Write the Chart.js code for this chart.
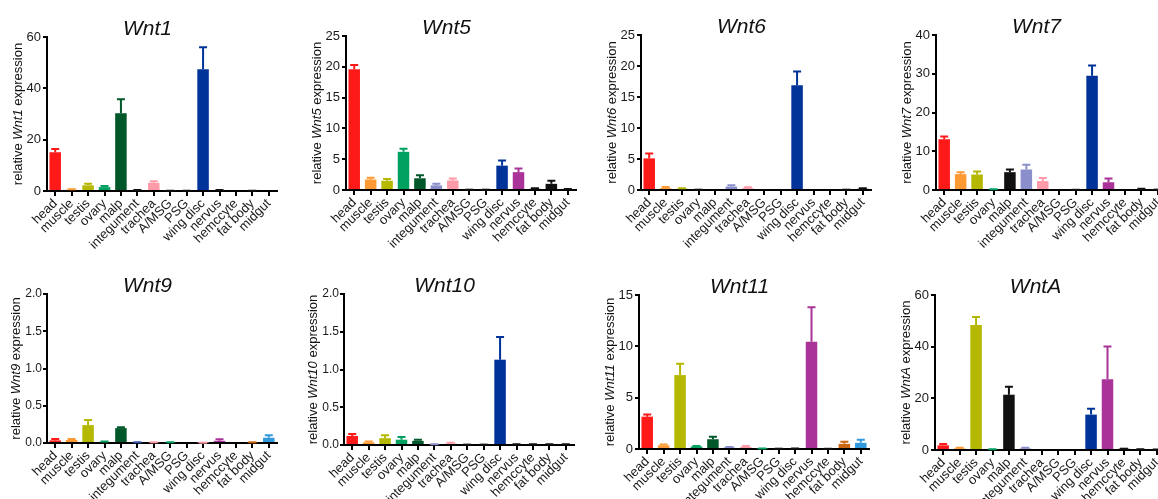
<!DOCTYPE html>
<html>
<head>
<meta charset="utf-8">
<script src="https://cdn.jsdelivr.net/npm/chart.js@4.4.1/dist/chart.umd.min.js"></script>
<style>
  body { margin: 0; width: 1158px; height: 499px; overflow: hidden; background: #fff; position: relative; }
  canvas { position: absolute; }
</style>
</head>
<body>
<script>
// Tecidos (categorias do eixo x)
const tecidos = ['head', 'muscle', 'testis', 'ovary', 'malp', 'integument', 'trachea', 'A/MSG', 'PSG', 'wing disc', 'nervus', 'hemccyte', 'fat body', 'midgut'];

// Médias e erros
const wnt1Media = [15.1, 0.5, 2.2, 1.5, 30.3, 0.3, 3.2, 0.1, 0.1, 47.4, 0.3, 0, 0.1, 0];
const wnt1Erro  = [1.3, 0.2, 0.6, 0.4, 5.4, 0.1, 0.6, 0, 0, 8.6, 0.1, 0, 0, 0];
const wnt1Ticks = [0, 20, 40, 60];

const wnt5Media = [19.6, 1.7, 1.5, 6.2, 1.9, 0.75, 1.55, 0.05, 0.05, 3.95, 2.9, 0.2, 1.0, 0.1];
const wnt5Erro  = [0.7, 0.3, 0.3, 0.5, 0.5, 0.25, 0.3, 0, 0, 0.85, 0.6, 0.1, 0.5, 0.05];
const wnt5Ticks = [0, 5, 10, 15, 20, 25];

const wnt6Media = [5.1, 0.3, 0.2, 0.05, 0, 0.55, 0.3, 0, 0, 16.9, 0, 0, 0.05, 0.2];
const wnt6Erro  = [0.8, 0.2, 0.1, 0, 0, 0.2, 0.15, 0, 0, 2.2, 0, 0, 0, 0.1];
const wnt6Ticks = [0, 5, 10, 15, 20, 25];

const wnt7Media = [13.1, 4.1, 4.0, 0.2, 4.6, 5.3, 2.3, 0, 0.05, 29.5, 2.0, 0, 0.2, 0.1];
const wnt7Erro  = [0.7, 0.5, 0.8, 0, 0.7, 1.2, 0.8, 0, 0, 2.6, 1.0, 0, 0.1, 0];
const wnt7Ticks = [0, 10, 20, 30, 40];

const wnt9Media = [0.035, 0.04, 0.24, 0.015, 0.2, 0.01, 0.01, 0.01, 0, 0.005, 0.03, 0, 0.01, 0.07];
const wnt9Erro  = [0.02, 0.015, 0.07, 0.005, 0.01, 0, 0, 0, 0, 0, 0.02, 0, 0, 0.035];
const wnt9Ticks = [0, 0.5, 1.0, 1.5, 2.0];

const wnt10Media = [0.12, 0.035, 0.09, 0.07, 0.055, 0.01, 0.02, 0.005, 0.005, 1.13, 0.01, 0.01, 0.01, 0.01];
const wnt10Erro  = [0.025, 0.01, 0.04, 0.035, 0.015, 0, 0.01, 0, 0, 0.3, 0, 0, 0, 0];
const wnt10Ticks = [0, 0.5, 1.0, 1.5, 2.0];

const wnt11Media = [3.15, 0.35, 7.2, 0.25, 0.95, 0.15, 0.2, 0.05, 0.03, 0.05, 10.45, 0.02, 0.5, 0.6];
const wnt11Erro  = [0.2, 0.1, 1.1, 0.05, 0.25, 0.05, 0.1, 0, 0, 0, 3.35, 0, 0.2, 0.3];
const wnt11Ticks = [0, 5, 10, 15];

const wntAMedia = [1.8, 0.6, 48.4, 0.3, 21.4, 0.6, 0, 0, 0, 13.7, 27.4, 0.5, 0.3, 0.2];
const wntAErro  = [0.5, 0.3, 3.1, 0, 3.1, 0.3, 0, 0, 0, 2.3, 12.7, 0, 0, 0];
const wntATicks = [0, 20, 40, 60];

// Cores das barras
const R = '#ff1a1a', L = '#ff9933', O = '#b5b800', V = '#00a060', VE = '#00572a',
      LA = '#8a8fcc', RS = '#ff9aa8', AZ = '#003399', MG = '#aa3399', P = '#111111',
      MR = '#cc6611', AC = '#3399dd';
const wnt1Cores  = [R, L, O, V, VE, P, RS, P, P, AZ, P, P, P, P];
const wnt5Cores  = [R, L, O, V, VE, LA, RS, P, P, AZ, MG, P, P, P];
const wnt6Cores  = [R, L, O, P, P, LA, RS, P, P, AZ, P, P, P, P];
const wnt7Cores  = [R, L, O, V, P, LA, RS, P, P, AZ, MG, P, P, P];
const wnt9Cores  = [R, L, O, V, VE, '#3355aa', RS, V, P, RS, MG, P, MR, AC];
const wnt10Cores = [R, L, O, V, VE, LA, RS, P, P, AZ, P, P, P, P];
const wnt11Cores = [R, L, O, V, VE, LA, RS, V, P, P, MG, P, MR, AC];
const wntACores  = [R, L, O, V, P, LA, RS, P, P, AZ, MG, P, P, P];

const paineis = [
    { gene: 'Wnt1',  media: wnt1Media,  erro: wnt1Erro,  ticks: wnt1Ticks,  cores: wnt1Cores,  dec: 0 },
    { gene: 'Wnt5',  media: wnt5Media,  erro: wnt5Erro,  ticks: wnt5Ticks,  cores: wnt5Cores,  dec: 0 },
    { gene: 'Wnt6',  media: wnt6Media,  erro: wnt6Erro,  ticks: wnt6Ticks,  cores: wnt6Cores,  dec: 0 },
    { gene: 'Wnt7',  media: wnt7Media,  erro: wnt7Erro,  ticks: wnt7Ticks,  cores: wnt7Cores,  dec: 0 },
    { gene: 'Wnt9',  media: wnt9Media,  erro: wnt9Erro,  ticks: wnt9Ticks,  cores: wnt9Cores,  dec: 1 },
    { gene: 'Wnt10', media: wnt10Media, erro: wnt10Erro, ticks: wnt10Ticks, cores: wnt10Cores, dec: 1 },
    { gene: 'Wnt11', media: wnt11Media, erro: wnt11Erro, ticks: wnt11Ticks, cores: wnt11Cores, dec: 0 },
    { gene: 'WntA',  media: wntAMedia,  erro: wntAErro,  ticks: wntATicks,  cores: wntACores,  dec: 0 }
];

// Posição de cada painel na página (eixo y, topo e base da área do gráfico)
const posicoes = [
    { eixo: 47,  topo: 37,  base: 191, linha: 0 },
    { eixo: 346, topo: 36,  base: 190, linha: 0 },
    { eixo: 641, topo: 35,  base: 190, linha: 0 },
    { eixo: 936, topo: 35,  base: 190, linha: 0 },
    { eixo: 47,  topo: 294, base: 443, linha: 1 },
    { eixo: 344, topo: 294, base: 445, linha: 1 },
    { eixo: 639, topo: 295, base: 449, linha: 1 },
    { eixo: 935, topo: 295, base: 450, linha: 1 }
];

const FONTE = "'Liberation Sans', Arial, sans-serif";
const LARG_Y = 47;

// Barras de erro (só para cima, com capa)
const pluginErro = {
    id: 'barrasErro',
    afterDatasetsDraw(chart) {
        const ctx = chart.ctx;
        const ds = chart.data.datasets[0];
        const y = chart.scales.y;
        ctx.save();
        chart.getDatasetMeta(0).data.forEach((bar, i) => {
            const v = ds.data[i], e = ds.erros[i];
            if (!v && !e) return;
            const topo = y.getPixelForValue(v + e);
            ctx.strokeStyle = ds.backgroundColor[i];
            ctx.lineWidth = 2;
            ctx.beginPath();
            ctx.moveTo(bar.x, bar.y);
            ctx.lineTo(bar.x, topo);
            ctx.moveTo(bar.x - 4, topo);
            ctx.lineTo(bar.x + 4, topo);
            ctx.stroke();
        });
        ctx.restore();
    }
};

// Título do painel e título do eixo y (com o gene em itálico)
const pluginTextos = {
    id: 'textos',
    afterDraw(chart) {
        const ctx = chart.ctx;
        const area = chart.chartArea;
        const gene = chart.options.gene;
        ctx.save();
        ctx.fillStyle = '#111';
        ctx.font = 'italic 21px ' + FONTE;
        ctx.textAlign = 'center';
        ctx.textBaseline = 'alphabetic';
        ctx.fillText(gene, chart.width / 2, area.top - 2);

        const partes = [['relative ', '13px ' + FONTE], [gene, 'italic 13px ' + FONTE], [' expression', '13px ' + FONTE]];
        let total = 0;
        partes.forEach(p => { ctx.font = p[1]; total += ctx.measureText(p[0]).width; });
        ctx.translate(area.left - chart.options.recuoTitulo, (area.top + area.bottom) / 2);
        ctx.rotate(-Math.PI / 2);
        ctx.textAlign = 'left';
        ctx.textBaseline = 'middle';
        let x = -total / 2;
        partes.forEach(p => {
            ctx.font = p[1];
            ctx.fillText(p[0], x, 0);
            x += ctx.measureText(p[0]).width;
        });
        ctx.restore();
    }
};

paineis.forEach((p, k) => {
    const pos = posicoes[k];
    const topoCanvas = pos.linha === 0 ? 0 : 250;
    const altura = pos.linha === 0 ? 250 : 249;
    const largura = 295;

    const canvas = document.createElement('canvas');
    canvas.width = largura;
    canvas.height = altura;
    canvas.style.left = (pos.eixo - LARG_Y) + 'px';
    canvas.style.top = topoCanvas + 'px';
    document.body.appendChild(canvas);

    const alturaX = altura - (pos.base - topoCanvas);

    new Chart(canvas.getContext('2d'), {
        type: 'bar',
        data: {
            labels: tecidos,
            datasets: [{
                data: p.media,
                erros: p.erro,
                backgroundColor: p.cores,
                barPercentage: 0.7,
                categoryPercentage: 1.0
            }]
        },
        options: {
            gene: p.gene,
            recuoTitulo: p.dec ? 31 : 29,
            responsive: false,
            animation: false,
            layout: { padding: { top: pos.topo - topoCanvas, right: largura - LARG_Y - 230, left: 0, bottom: 0 } },
            plugins: { legend: { display: false }, tooltip: { enabled: false } },
            scales: {
                x: {
                    offset: true,
                    grid: { offset: false, drawOnChartArea: false, color: '#000', lineWidth: 2, tickLength: 5 },
                    border: { color: '#000', width: 2 },
                    ticks: {
                        color: '#1a1a1a', autoSkip: false, minRotation: 45, maxRotation: 45, padding: 0,
                        font: { family: FONTE, size: 13 }
                    },
                    afterFit: s => { s.height = alturaX; }
                },
                y: {
                    min: 0,
                    max: p.ticks[p.ticks.length - 1],
                    afterBuildTicks: s => { s.ticks = p.ticks.map(v => ({ value: v })); },
                    grid: { drawOnChartArea: false, color: '#000', lineWidth: 2, tickLength: 4 },
                    border: { color: '#000', width: 2 },
                    ticks: {
                        color: '#1a1a1a', padding: p.dec ? 1 : 2,
                        font: { family: FONTE, size: p.dec ? 12 : 13 },
                        callback: v => Number(v).toFixed(p.dec)
                    },
                    afterFit: s => { s.width = LARG_Y; }
                }
            }
        },
        plugins: [pluginErro, pluginTextos]
    });
});
</script>
</body>
</html>
